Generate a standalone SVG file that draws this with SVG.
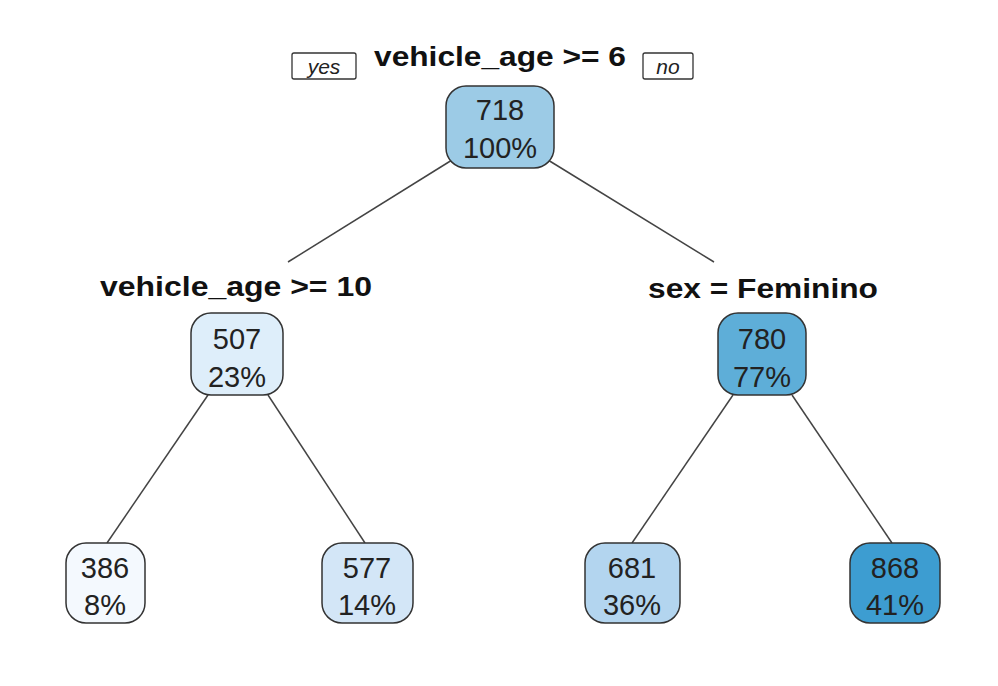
<svg xmlns="http://www.w3.org/2000/svg" width="998" height="686" viewBox="0 0 998 686">
<style>
.n{stroke:#333;stroke-width:1.5}
.t{font-family:"Liberation Sans",Arial,sans-serif;font-size:29px;fill:#222;text-anchor:middle}
.s{font-family:"Liberation Sans",Arial,sans-serif;font-size:27px;font-weight:bold;fill:#111;text-anchor:middle}
.y{font-family:"Liberation Sans",Arial,sans-serif;font-size:21px;font-style:italic;fill:#222;text-anchor:middle}
.e{stroke:#444;stroke-width:1.5;fill:none}
</style>
<rect width="998" height="686" fill="#fff"/>
<g id="connectors">
<line class="e" x1="452" y1="160" x2="288" y2="262"/>
<line class="e" x1="548" y1="160" x2="714" y2="262"/>
<line class="e" x1="208" y1="395" x2="107" y2="543"/>
<line class="e" x1="268" y1="395" x2="365" y2="543"/>
<line class="e" x1="733" y1="395" x2="632" y2="543"/>
<line class="e" x1="792" y1="395" x2="892" y2="543"/>
</g>
<g id="labels">
<rect x="292" y="53" width="64" height="26" rx="2" fill="#fff" stroke="#333" stroke-width="1.3"/>
<text class="y" x="324" y="74">yes</text>
<rect x="643" y="53" width="50" height="26" rx="2" fill="#fff" stroke="#333" stroke-width="1.3"/>
<text class="y" x="668" y="74">no</text>
</g>
<g id="root">
<text class="s" x="500" y="66" textLength="252" lengthAdjust="spacingAndGlyphs">vehicle_age &gt;= 6</text>
<rect class="n" x="446" y="86" width="108" height="82" rx="20" fill="#9ccbe6"/>
<text class="t" x="500" y="120">718</text><text class="t" x="500" y="158">100%</text>
</g>
<g id="n507">
<text class="s" x="236" y="296" textLength="272" lengthAdjust="spacingAndGlyphs">vehicle_age &gt;= 10</text>
<rect class="n" x="191" y="313" width="92" height="82" rx="20" fill="#deeefa"/>
<text class="t" x="237" y="349">507</text><text class="t" x="237" y="387">23%</text>
</g>
<g id="n780">
<text class="s" x="763" y="298" textLength="230" lengthAdjust="spacingAndGlyphs">sex = Feminino</text>
<rect class="n" x="718" y="313" width="88" height="82" rx="20" fill="#5eaed8"/>
<text class="t" x="762" y="349">780</text><text class="t" x="762" y="387">77%</text>
</g>
<g id="n386">
<rect class="n" x="66" y="543" width="79" height="80" rx="20" fill="#f4f9fe"/>
<text class="t" x="105" y="578">386</text><text class="t" x="105" y="615">8%</text>
</g>
<g id="n577">
<rect class="n" x="322" y="543" width="91" height="80" rx="20" fill="#d3e6f7"/>
<text class="t" x="367" y="578">577</text><text class="t" x="367" y="615">14%</text>
</g>
<g id="n681">
<rect class="n" x="585" y="543" width="95" height="80" rx="20" fill="#b3d5ef"/>
<text class="t" x="632" y="578">681</text><text class="t" x="632" y="615">36%</text>
</g>
<g id="n868">
<rect class="n" x="850" y="543" width="90" height="80" rx="20" fill="#3d9dd1"/>
<text class="t" x="895" y="578">868</text><text class="t" x="895" y="615">41%</text>
</g>
</svg>
